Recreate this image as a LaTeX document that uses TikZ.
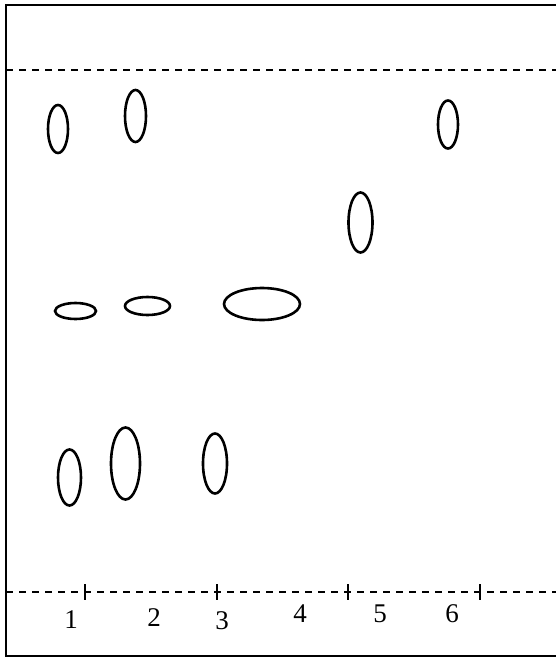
\documentclass[tikz,border=0pt]{standalone}
\usepackage{fontspec}
\setmainfont{Liberation Serif}
\usetikzlibrary{shapes.geometric}
\tikzset{
  spot/.style={ellipse, draw, line width=2.6pt, inner sep=0pt},
  lane/.style={font=\fontsize{27}{30}\selectfont, inner sep=0pt},
  dashline/.style={line width=2.2pt, dash pattern=on 7pt off 6pt},
  tick/.style={line width=2.8pt}
}
\begin{document}
\begin{tikzpicture}[x=1pt,y=-1pt]
\useasboundingbox (0,0) rectangle (556,657);
% frame (right side not shown)
\draw[line width=2.6pt] (560,5) -- (6,5) -- (6,656) -- (560,656);
% solvent front and baseline
\coordinate (fl) at (6,70); \coordinate (fr) at (556,70);
\coordinate (bl) at (6,592); \coordinate (br) at (556,592);
\draw[dashline] (fl) -- (fr);
\draw[dashline] (bl) -- (br);
% ticks
\foreach \x [count=\i] in {85,217,348,480} {
  \coordinate (t\i a) at (\x,584); \coordinate (t\i b) at (\x,600);
  \draw[tick] (t\i a) -- (t\i b);
}
% spots
\node[spot, minimum width=20pt, minimum height=48pt] (s1) at (58,129) {};
\node[spot, minimum width=21pt, minimum height=52pt] (s2) at (135.5,116) {};
\node[spot, minimum width=20pt, minimum height=48pt] (s3) at (448,124.5) {};
\node[spot, minimum width=24pt, minimum height=60pt] (s4) at (360.5,222.5) {};
\node[spot, minimum width=41pt, minimum height=16pt] (s5) at (75.5,311) {};
\node[spot, minimum width=45pt, minimum height=18pt] (s6) at (147.5,306) {};
\node[spot, minimum width=76pt, minimum height=32pt] (s7) at (262,304) {};
\node[spot, minimum width=23pt, minimum height=56pt] (s8) at (69.5,477.5) {};
\node[spot, minimum width=29pt, minimum height=72pt] (s9) at (125.5,463.5) {};
\node[spot, minimum width=24pt, minimum height=60pt] (s10) at (215,463.5) {};
% lane labels
\node[lane] (l1) at (71,620) {1};
\node[lane] (l2) at (154,618) {2};
\node[lane] (l3) at (222,621) {3};
\node[lane] (l4) at (300,614) {4};
\node[lane] (l5) at (380,614) {5};
\node[lane] (l6) at (452,614) {6};
\end{tikzpicture}
\end{document}
